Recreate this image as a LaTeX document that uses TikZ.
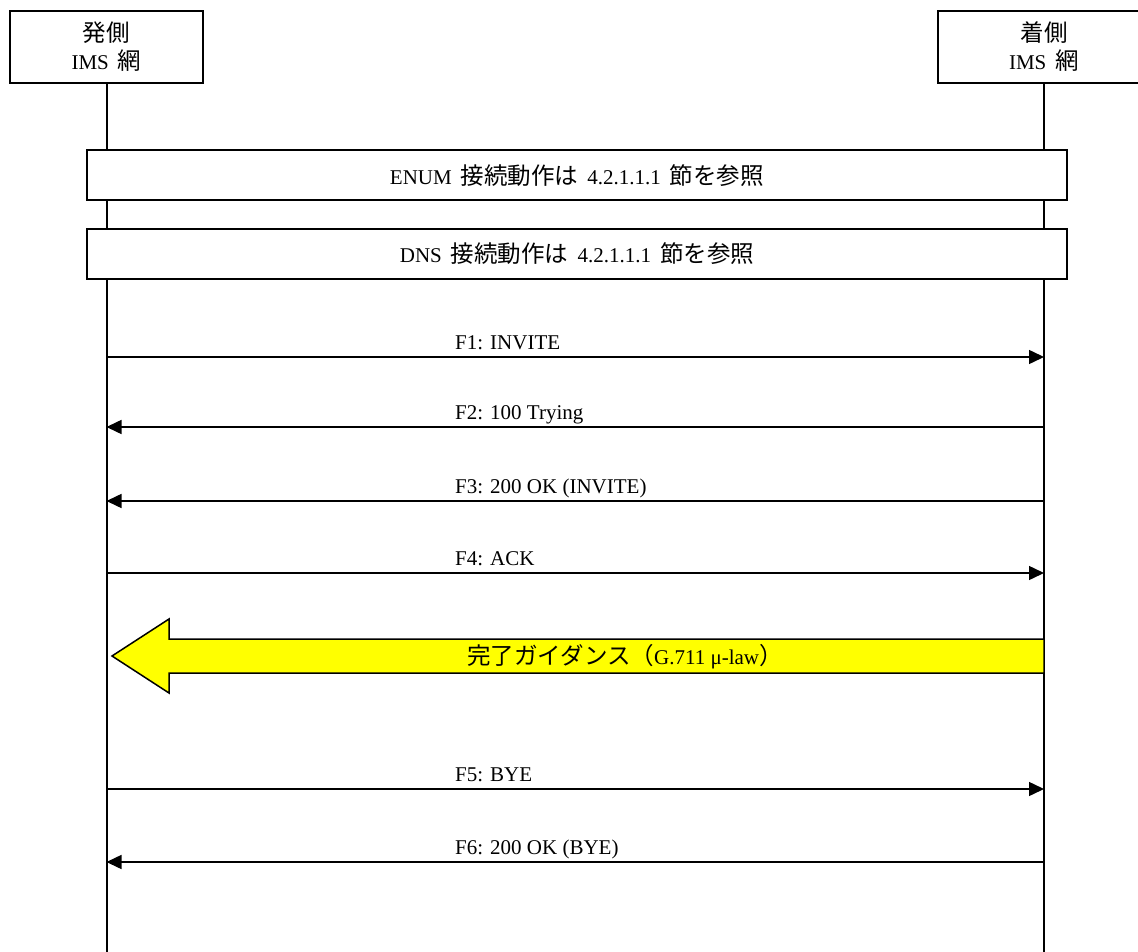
\documentclass[tikz,border=0pt]{standalone}
\usepackage{fontspec}
\setmainfont{Liberation Serif}
\newfontfamily\cjk[Scale=1.12]{Noto Sans CJK JP}
\newcommand{\gap}{\hspace{9pt}}
\usetikzlibrary{arrows.meta}
\definecolor{guideyellow}{RGB}{255,255,0}
\begin{document}
\begin{tikzpicture}[x=1pt,y=-1pt,
  every node/.style={font=\fontsize{21}{28}\selectfont, inner sep=0pt},
  party/.style={draw, line width=2pt, fill=white, minimum height=72pt, align=center},
  life/.style={line width=2pt},
  band/.style={draw, line width=2pt, fill=white, minimum width=980pt, minimum height=50pt},
  msg/.style={line width=1.5pt, -{Triangle[length=15pt,width=14pt]}},
  lbl/.style={anchor=base west},
  guide/.style={draw, line width=1.5pt, fill=guideyellow}]
\useasboundingbox (0,0) rectangle (1138,952);
\fill[white] (0,0) rectangle (1138,952);
\coordinate (bot) at (0,952);
% parties
\node[party, minimum width=193pt] (A) at (106.5,47) {{\cjk 発側}\\IMS\gap{\cjk 網}};
\node[party, minimum width=212pt] (B) at (1044,47) {{\cjk 着側}\\IMS\gap{\cjk 網}};
% lifelines
\draw[life] (A.south) -- (A.south |- bot);
\draw[life] (B.south) -- (B.south |- bot);
% bands
\node[band] (enum) at (577,175.5) {ENUM\gap{\cjk 接続動作は}\gap4.2.1.1.1\gap{\cjk 節を参照}};
\node[band] (dns) at (577,254) {DNS\gap{\cjk 接続動作は}\gap4.2.1.1.1\gap{\cjk 節を参照}};
% message end points
\foreach \n/\y in {1/357,2/427,3/501,4/573,5/789,6/862}{
  \coordinate (L\n) at (106.5,\y);
  \coordinate (R\n) at (1044,\y);
}
\draw[msg] (L1) -- (R1);
\draw[msg] (R2) -- (L2);
\draw[msg] (R3) -- (L3);
\draw[msg] (L4) -- (R4);
\draw[msg] (L5) -- (R5);
\draw[msg] (R6) -- (L6);
\node[lbl] (t1) at (455,349) {F1: INVITE};
\node[lbl] (t2) at (455,419) {F2: 100 Trying};
\node[lbl] (t3) at (455,493) {F3: 200 OK (INVITE)};
\node[lbl] (t4) at (455,565) {F4: ACK};
\node[lbl] (t5) at (455,781) {F5: BYE};
\node[lbl] (t6) at (455,854) {F6: 200 OK (BYE)};
% guidance arrow
\draw[guide] (1044,639) -- (169,639) -- (169,619) -- (112,656) -- (169,693) -- (169,673) -- (1044,673) -- cycle;
\node (g) at (625,657) {{\cjk 完了ガイダンス（}G.711 μ-law{\cjk ）}};
\end{tikzpicture}
\end{document}
